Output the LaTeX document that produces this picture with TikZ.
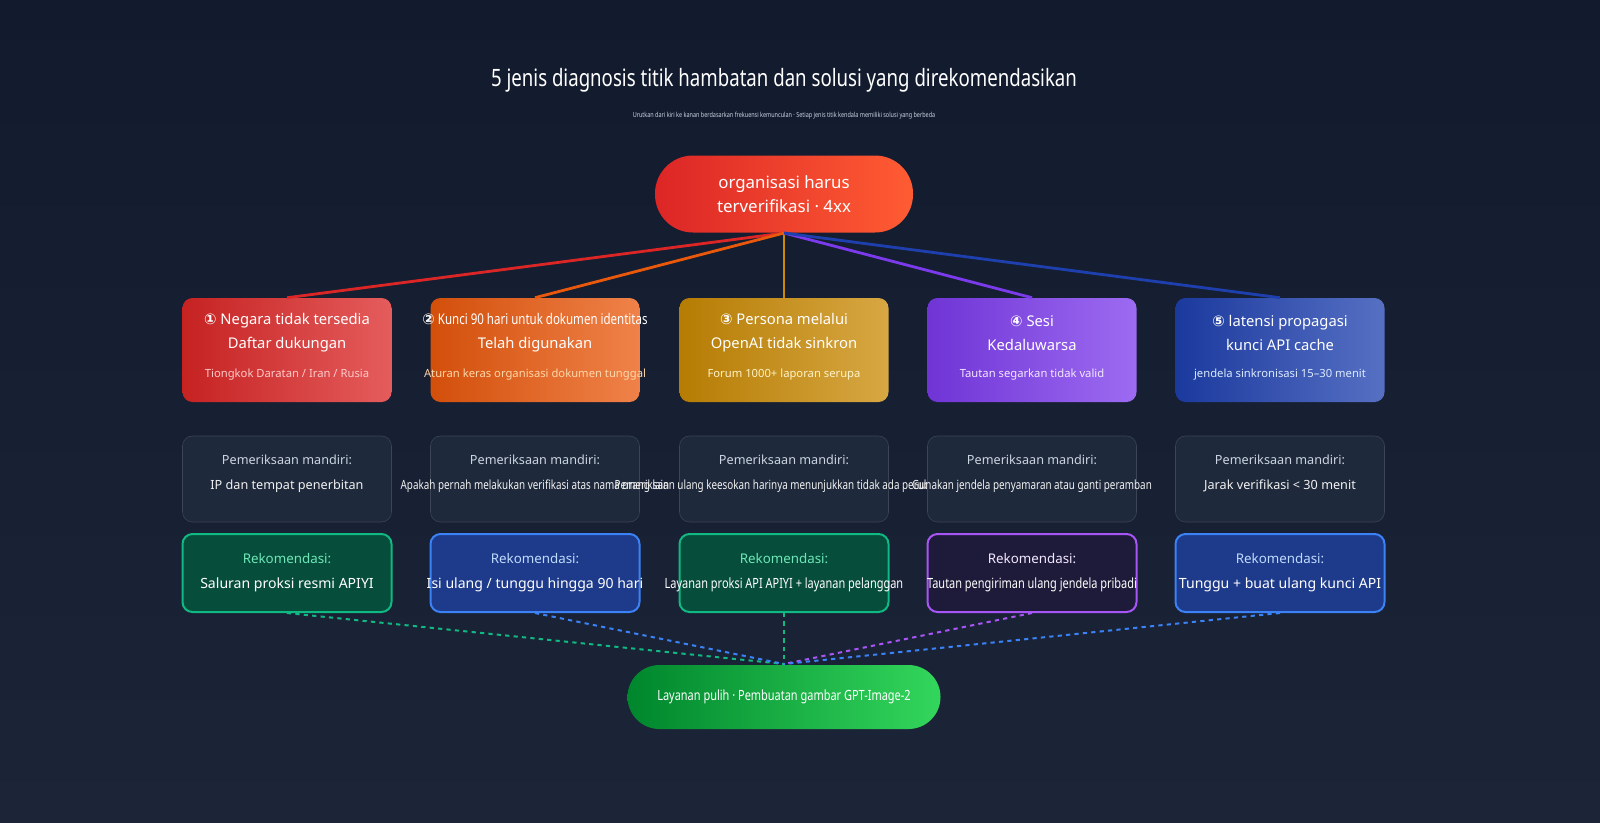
\documentclass[tikz,border=0pt]{standalone}
\usepackage{fontspec}
\setmainfont{Noto Sans}
\newfontfamily\symfont{DejaVu Sans}
\newfontfamily\narrowfont[FakeStretch=0.78]{Noto Sans}
\usetikzlibrary{positioning}
\definecolor{bgtop}{HTML}{121A2D}
\definecolor{bgbot}{HTML}{1C2538}
\definecolor{cred}{HTML}{DC2626}
\definecolor{corange}{HTML}{EA580C}
\definecolor{camber}{HTML}{CA8A04}
\definecolor{cpurple}{HTML}{7C3AED}
\definecolor{cblue}{HTML}{1E40AF}
\definecolor{checkfill}{HTML}{1E293B}
\definecolor{checkline}{HTML}{3B4556}
\definecolor{checktext}{HTML}{CBD5E1}
\tikzset{basic/.style={rounded corners=10*0.25mm,text badly centered,
                       text=white,align=center}}
\begin{document}
\begin{tikzpicture}[x=0.25mm,y=-0.25mm,
      % styles for clarity
      causebox/.style ={basic, minimum width=209*0.25mm, minimum height=104*0.25mm},
      checkbox/.style ={basic, draw=checkline, fill=checkfill, minimum width=209*0.25mm, minimum height=86*0.25mm},
      recbox/.style   ={basic, line width=0.5mm, minimum width=209*0.25mm, minimum height=78*0.25mm},
      pill/.style     ={rounded corners=32*0.25mm, text=white, align=center, font=\bfseries}
    ]
    \shade[top color=bgtop, bottom color=bgbot] (0,0) rectangle (1600,822);
    \useasboundingbox (0,0) rectangle (1600,822);

    \node[text=white, font=\narrowfont\bfseries\fontsize{17}{20}\selectfont] (title) at (784,80)
      {5 jenis diagnosis titik hambatan dan solusi yang direkomendasikan};
    \node[text=checktext, font=\narrowfont\fontsize{5}{6}\selectfont] (subtitle) at (784,116)
      {Urutkan dari kiri ke kanan berdasarkan frekuensi kemunculan · Setiap jenis titik kendala memiliki solusi yang berbeda};

    % top and bottom pills
    \node[pill, minimum width=258*0.25mm, minimum height=77*0.25mm, left color=cred, right color=red!60!orange!80!white,
          rounded corners=38*0.25mm, font=\bfseries\fontsize{12}{17}\selectfont] (org) at (784,194)
      {organisasi harus\\terverifikasi · 4xx};
    \node[pill, minimum width=313*0.25mm, minimum height=64*0.25mm, left color=green!50!teal!70!black, right color=green!60!teal!80!white,
          font=\narrowfont\bfseries\fontsize{10}{12}\selectfont] (done) at (784,697)
      {Layanan pulih · Pembuatan gambar GPT-Image-2};
    \coordinate (hub) at (784,233);
    \coordinate (sink) at (784,664);

    \foreach \x/\c/\recfill/\recline/\rectitle/\cause/\detail/\dcol/\check/\rec [count=\i from 1] in {
      287/cred/064E3B/10B981/6EE7B7/{{\symfont ①} Negara tidak tersedia\\Daftar dukungan}/{Tiongkok Daratan / Iran / Rusia}/FECACA/{IP dan tempat penerbitan}/{Saluran proksi resmi APIYI},
      535/corange/1E3A8A/3B82F6/BFDBFE/{{\symfont ②}{\narrowfont\ Kunci 90 hari untuk dokumen identitas}\\Telah digunakan}/{Aturan keras organisasi dokumen tunggal}/FED7AA/{\narrowfont Apakah pernah melakukan verifikasi atas nama orang lain}/{Isi ulang / tunggu hingga 90 hari},
      784/camber/064E3B/10B981/6EE7B7/{{\symfont ③} Persona melalui\\OpenAI tidak sinkron}/{Forum 1000+ laporan serupa}/FEF3C7/{\narrowfont Pemeriksaan ulang keesokan harinya menunjukkan tidak ada perubahan}/{\narrowfont Layanan proksi API APIYI + layanan pelanggan},
      1032/cpurple/1E1B3A/A855F7/F3E8FF/{{\symfont ④} Sesi\\Kedaluwarsa}/{Tautan segarkan tidak valid}/F3E8FF/{\narrowfont Gunakan jendela penyamaran atau ganti peramban}/{\narrowfont Tautan pengiriman ulang jendela pribadi},
      1280/cblue/1E3A8A/3B82F6/BFDBFE/{{\symfont ⑤} latensi propagasi\\kunci API cache}/{jendela sinkronisasi 15–30 menit}/DBEAFE/{Jarak verifikasi < 30 menit}/{Tunggu + buat ulang kunci API}}{
      \definecolor{rf}{HTML}{\recfill}\definecolor{rl}{HTML}{\recline}
      \definecolor{rt}{HTML}{\rectitle}\definecolor{dc}{HTML}{\dcol}
      % cause, self check, recommendation
      \node[causebox, left color=\c!90!black, right color=\c!75!white] (cause\i) at (\x,350) {};
      \node[text=white, align=center, font=\bfseries\fontsize{10.5}{17}\selectfont] (causet\i) at (\x,333) {\cause};
      \node[text=dc, font=\fontsize{8}{10}\selectfont] (caused\i) at (\x,375) {\detail};
      \node[checkbox] (check\i) at (\x,479) {};
      \node[text=checktext, font=\fontsize{9}{11}\selectfont] (checkt\i) at (\x,460) {Pemeriksaan mandiri:};
      \node[text=white!90!gray, font=\fontsize{9}{11}\selectfont] (checkd\i) at (\x,486) {\check};
      \node[recbox, fill=rf, draw=rl] (rec\i) at (\x,573) {};
      \node[text=rt, font=\bfseries\fontsize{9.5}{11}\selectfont] (rect\i) at (\x,559) {Rekomendasi:};
      \node[text=white, font=\bfseries\fontsize{10}{12}\selectfont] (recd\i) at (\x,585) {\rec};

      % hub -> cause, rec -> sink
      \draw[\c, line width=0.7mm] (hub) -- (cause\i.north);
      \draw[rl, line width=0.5mm, dashed] (rec\i.south) -- (sink);
    }
  \end{tikzpicture}
\end{document}
